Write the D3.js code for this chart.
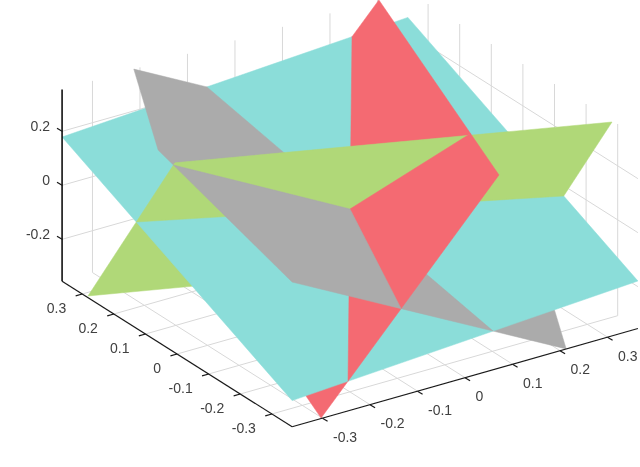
<!DOCTYPE html>
<html>
<head>
<meta charset="utf-8">
<script src="https://cdn.jsdelivr.net/npm/d3@7/dist/d3.min.js"></script>
<style>html,body{margin:0;padding:0;background:#fff;overflow:hidden}svg{display:block}</style>
</head>
<body>
<script>
// ---- data: plane corners (x, y, z data units) ----
const cyanX  = [-0.364, 0.364, 0.364, -0.364];
const cyanY  = [0.364, 0.364, -0.364, -0.364];
const cyanZ  = [0.179, 0.258, -0.179, -0.258];
const greenX = [-0.364, 0.364, 0.364, -0.364];
const greenY = [0.007, -0.282, -0.007, 0.282];
const greenZ = [0.348, 0.349, -0.348, -0.349];
const redX   = [0.303, 0.0715, -0.303, -0.0715];
const redY   = [0.364, -0.364, -0.364, 0.364];
const redZ   = [0.353, 0.360, -0.353, -0.360];
const grayX  = [-0.213, 0.364, 0.364, 0.213, -0.364, -0.364];
const grayY  = [0.364, 0.364, -0.060, -0.364, -0.364, 0.060];
const grayZ  = [0.355, -0.181, -0.356, -0.355, 0.181, 0.356];
const planeColors = {cyan:"#8bddd9", green:"#b0d878", red:"#f46b72", gray:"#ababab"};
const xTicks = [-0.3,-0.2,-0.1,0,0.1,0.2,0.3];
const yTicks = [-0.3,-0.2,-0.1,0,0.1,0.2,0.3];
const zTicks = [-0.2,0,0.2];
const xLim = [-0.364,0.364], yLim = [-0.364,0.364], zLim = [-0.355,0.355];

const W = 640, H = 467;
const svg = d3.select("body").append("svg").attr("width",W).attr("height",H);
svg.append("defs").append("filter").attr("id","soft")
  .attr("x",0).attr("y",0).attr("width",W).attr("height",H).attr("filterUnits","userSpaceOnUse")
  .append("feGaussianBlur").attr("stdDeviation",0.45);
const root=svg.append("g").attr("filter","url(#soft)");

// oblique view built from linear scales (origin at 350,209)
const xToH = d3.scaleLinear().domain([0,1]).range([0,475]);
const yToH = d3.scaleLinear().domain([0,1]).range([0,-316]);
const xToV = d3.scaleLinear().domain([0,1]).range([0,-135]);
const yToV = d3.scaleLinear().domain([0,1]).range([0,-200]);
const zToV = d3.scaleLinear().domain([0,1]).range([0,-270]);
const px = p => 350 + xToH(p[0]) + yToH(p[1]);
const py = p => 209 + xToV(p[0]) + yToV(p[1]) + zToV(p[2]);
const line = d3.line().x(px).y(py);
const closed = d3.line().x(px).y(py).curve(d3.curveLinearClosed);
const viewer = [-0.502,-0.754,0.22];

const dot = (a,b)=>a[0]*b[0]+a[1]*b[1]+a[2]*b[2];
function normalOf(v){
  let n=[0,0,0];
  v.forEach((a,i)=>{const b=v[(i+1)%v.length];
    n[0]+=(a[1]-b[1])*(a[2]+b[2]);
    n[1]+=(a[2]-b[2])*(a[0]+b[0]);
    n[2]+=(a[0]-b[0])*(a[1]+b[1]);});
  return n;
}
const build=(name,X,Y,Z)=>{const v=X.map((x,i)=>[x,Y[i],Z[i]]);return {name,v,n:normalOf(v)};};
const planes=[build("cyan",cyanX,cyanY,cyanZ),build("green",greenX,greenY,greenZ),
              build("red",redX,redY,redZ),build("gray",grayX,grayY,grayZ)];

// BSP split so that intersecting planes are painted correctly
function split(poly,n){
  const f=[],b=[],v=poly.v;
  v.forEach((a,i)=>{
    const c=v[(i+1)%v.length],da=dot(a,n),dc=dot(c,n);
    if(da>=0)f.push(a); if(da<=0)b.push(a);
    if(da*dc<0){const t=da/(da-dc),m=[a[0]+t*(c[0]-a[0]),a[1]+t*(c[1]-a[1]),a[2]+t*(c[2]-a[2])];f.push(m);b.push(m);}
  });
  return [f.length>2?{...poly,v:f}:null,b.length>2?{...poly,v:b}:null];
}
function bsp(list){
  if(!list.length)return [];
  const [head,...rest]=list,front=[],back=[];
  rest.forEach(p=>{const [f,b]=split(p,head.n);if(f)front.push(f);if(b)back.push(b);});
  const fo=bsp(front),bo=bsp(back);
  return dot(head.n,viewer)>0?[...bo,head,...fo]:[...fo,head,...bo];
}
const pieces=bsp(planes);

// grid on the back walls and floor
const grid=root.append("g").attr("fill","none").attr("stroke","#d8d8d8").attr("stroke-width",1);
const seg=(g,a,b)=>g.append("path").attr("d",line([a,b]));
xTicks.forEach(x=>{seg(grid,[x,yLim[1],zLim[0]],[x,yLim[1],zLim[1]]);seg(grid,[x,yLim[0],zLim[0]],[x,yLim[1],zLim[0]]);});
yTicks.forEach(y=>{seg(grid,[xLim[1],y,zLim[0]],[xLim[1],y,zLim[1]]);seg(grid,[xLim[0],y,zLim[0]],[xLim[1],y,zLim[0]]);});
zTicks.forEach(z=>{seg(grid,[xLim[0],yLim[1],z],[xLim[1],yLim[1],z]);seg(grid,[xLim[1],yLim[0],z],[xLim[1],yLim[1],z]);});

// planes
root.append("g").selectAll("path").data(pieces).join("path")
  .attr("d",d=>closed(d.v))
  .attr("fill",d=>planeColors[d.name])
  .attr("stroke",d=>planeColors[d.name])
  .attr("stroke-width",0.5)
  .attr("stroke-linejoin","round");

// axes
const ax=root.append("g").attr("fill","none").attr("stroke","#1a1a1a").attr("stroke-width",1.2);
seg(ax,[xLim[0],yLim[1],zLim[0]],[xLim[0],yLim[1],zLim[1]]).attr("stroke","#000").attr("stroke-width",1.5);
seg(ax,[xLim[0],yLim[1],zLim[0]],[xLim[0],yLim[0],zLim[0]]);
seg(ax,[xLim[0],yLim[0],zLim[0]],[xLim[1],yLim[0],zLim[0]]);
xTicks.forEach(x=>seg(ax,[x,yLim[0],zLim[0]],[x,yLim[0]-0.016,zLim[0]]));
yTicks.forEach(y=>seg(ax,[xLim[0],y,zLim[0]],[xLim[0]-0.014,y,zLim[0]]));
zTicks.forEach(z=>seg(ax,[xLim[0],yLim[1],z],[xLim[0],yLim[1]+0.016,z]));

// tick labels
const labels=root.append("g").attr("font-family","'Liberation Sans',Arial,sans-serif")
  .attr("font-size",14).attr("fill","#404040");
const fmt=d=>d===0?"0":String(d);
labels.selectAll(".xl").data(xTicks).join("text")
  .attr("x",d=>px([d,yLim[0],zLim[0]])+10.5).attr("y",d=>py([d,yLim[0],zLim[0]])+23.5)
  .text(fmt);
labels.selectAll(".yl").data(yTicks).join("text").attr("text-anchor","end")
  .attr("x",d=>px([xLim[0],d,zLim[0]])-16).attr("y",d=>py([xLim[0],d,zLim[0]])+19.5)
  .text(fmt);
labels.selectAll(".zl").data(zTicks).join("text").attr("text-anchor","end")
  .attr("x",d=>px([xLim[0],yLim[1],d])-12).attr("y",d=>py([xLim[0],yLim[1],d])-0.5)
  .text(fmt);
</script>
</body>
</html>
